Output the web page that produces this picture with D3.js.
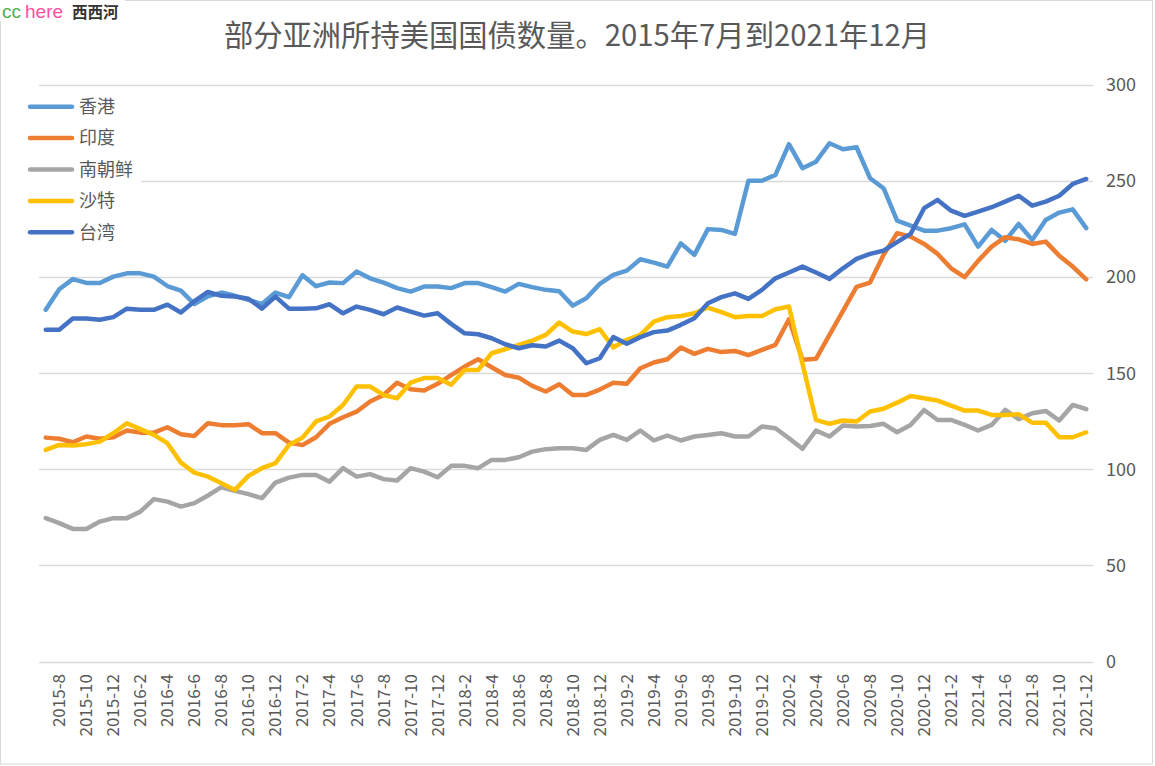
<!DOCTYPE html>
<html>
<head>
<meta charset="utf-8">
<script src="https://cdn.jsdelivr.net/npm/d3@7"></script>
<style>
  body { margin: 0; background: #fff; }
  svg { display: block; font-family: "Noto Sans CJK SC", "Noto Sans", sans-serif; }
</style>
</head>
<body>
<svg id="chart" width="1155" height="766"></svg>
<script>
// months 2015-7 .. 2021-12
var months = [];
for (var yr = 2015; yr <= 2021; yr++) {
    for (var m = (yr == 2015 ? 7 : 1); m <= 12; m++) months.push(yr + "-" + m);
}

var seriesNames = ["香港", "印度", "南朝鲜", "沙特", "台湾"];
var seriesColors = ["#5B9BD5", "#ED7D31", "#A5A5A5", "#FFC000", "#4472C4"];

var hongKong = [183, 193.7, 199, 197, 197, 200.3, 202, 202, 200.3, 195.4, 193, 186, 190, 192, 190.3, 188.2, 186, 192, 189.6, 201,
    195.3, 197.2, 196.9, 202.9, 199.4, 197.2, 194.3, 192.5, 195.1, 195.1, 194.3, 196.9, 196.9, 194.8, 192.5, 196.5, 194.8, 193.4, 192.7, 185.2,
    189, 196.5, 201.2, 203.4, 209.3, 207.6, 205.5, 217.6, 211.6, 225, 224.6, 222.5, 250.2, 250.2, 253.2, 269.2, 256.7, 260.1, 269.7, 266.6,
    267.6, 251.5, 246.3, 229.4, 226.8, 224.2, 224.2, 225.5, 227.5, 215.9, 224.6, 218.9, 227.7, 219.4, 229.8, 233.6, 235.3, 225.5];

var india = [116.5, 115.9, 114.1, 117.1, 115.9, 116.7, 120.2, 119.1, 119.1, 121.9, 118.3, 117.4, 124, 123, 123, 123.5, 118.8, 118.8, 113.9, 112.6,
    116.7, 123.7, 127.1, 130, 135.3, 138.7, 145.1, 141.7, 141, 144.5, 149, 153.5, 157.3, 153.1, 149.1, 147.7, 143.4, 140.5, 144.3, 138.7,
    138.7, 141.5, 145.1, 144.5, 152.6, 155.6, 157.3, 163.4, 160.1, 162.7, 161, 161.6, 159.4, 162.2, 164.8, 178.1, 157, 157.5, 170, 182.5,
    195, 197.2, 211.6, 222.9, 221.1, 217.3, 212.1, 204.6, 200, 208.5, 215.9, 220.8, 219.7, 217.3, 218.5, 211.2, 205.5, 198.9];

var korea = [74.6, 72, 69, 69, 72.8, 74.6, 74.6, 78, 84.5, 83.2, 80.6, 82.4, 86.4, 90.7, 88.8, 87.1, 85, 93.1, 95.7, 97.1,
    97.1, 93.6, 100.6, 96.2, 97.5, 94.9, 94.2, 100.6, 98.8, 95.9, 101.8, 101.8, 100.6, 104.9, 104.9, 106.3, 109.2, 110.5, 111, 111,
    110.1, 115.3, 117.9, 115.3, 120.2, 115, 117.6, 115, 117.1, 117.9, 118.8, 117.1, 117.1, 122.3, 121.4, 116.2, 110.7, 120.2, 117.1, 122.8,
    122.3, 122.6, 123.7, 119.3, 123.1, 130.9, 125.7, 125.7, 123.1, 120.2, 123.1, 130.9, 126.1, 129.2, 130.4, 125.4, 133.5, 131.3];

var saudi = [110.1, 112.7, 112.4, 113.1, 114.4, 118.8, 124, 120.9, 117.9, 113.6, 103.5, 98.3, 96.2, 92.8, 89.3, 96.6, 100.6, 103.2, 112.7, 116.5,
    124.9, 127.5, 133.5, 143.1, 143.1, 138.7, 137, 145.1, 147.5, 147.5, 144, 151.7, 151.7, 160.4, 162.5, 164.8, 167, 170, 176.4, 171.7,
    170.4, 172.9, 163.4, 167.4, 170, 176.9, 179.2, 179.8, 181.2, 184.2, 181.8, 179.2, 179.8, 179.8, 183.3, 184.7, 155, 125.7, 123.7, 125.4,
    124.9, 130.1, 131.5, 134.7, 138.2, 137, 135.8, 133.2, 130.6, 130.6, 128.3, 128.3, 128.7, 124.3, 124.3, 116.7, 116.7, 119.3];

var taiwan = [172.6, 172.6, 178.5, 178.5, 177.8, 179.2, 183.6, 183, 183, 185.7, 181.6, 187.5, 192.3, 190.3, 189.9, 188.8, 183.6, 189.9, 183.6, 183.6,
    183.8, 185.9, 181.2, 184.7, 183, 180.7, 184.2, 182.1, 180, 181.2, 175.7, 170.8, 170.3, 168.2, 165.1, 163, 164.6, 163.9, 167, 163,
    155.2, 157.8, 168.8, 165.3, 168.8, 171.4, 172.2, 175.2, 178.6, 186.4, 189.6, 191.6, 188.7, 193.4, 199.4, 202.4, 205.5, 202.4, 199.1, 204.6,
    209.5, 212.1, 213.8, 218.2, 222.5, 235.9, 240.2, 234.6, 231.9, 234.1, 236.4, 239.3, 242.4, 237.2, 239.3, 242.4, 248.5, 251.1];

var yTicks = [0, 50, 100, 150, 200, 250, 300];
var allSeries = [hongKong, india, korea, saudi, taiwan];

var svg = d3.select("#chart");
var textColor = "#595959";
var gridColor = "#d9d9d9";

// chart border
svg.append("rect")
    .attr("x", 0.5).attr("y", 0.5)
    .attr("width", 1152).attr("height", 763.5)
    .attr("fill", "#fff").attr("stroke", gridColor);

var xScale = d3.scalePoint()
    .domain(months)
    .range([39, 1093])
    .padding(0.5);

var yScale = d3.scaleLinear()
    .domain([0, 300])
    .range([661.5, 85]);

// gridlines
svg.append("g").selectAll("line")
    .data(yTicks)
    .enter().append("line")
    .attr("x1", 39).attr("x2", 1093)
    .attr("y1", function (d) { return Math.round(yScale(d)) + 0.5; })
    .attr("y2", function (d) { return Math.round(yScale(d)) + 0.5; })
    .attr("stroke", gridColor)
    .attr("stroke-width", 1.3);

// right axis labels
svg.append("g").selectAll("text")
    .data(yTicks)
    .enter().append("text")
    .attr("x", 1106)
    .attr("y", function (d) { return yScale(d); })
    .attr("dy", "0.35em")
    .attr("fill", textColor)
    .attr("font-size", 18)
    .text(function (d) { return d; });

// category labels, every other month
svg.append("g").selectAll("text")
    .data(months.filter(function (d, i) { return i % 2 == 1; }))
    .enter().append("text")
    .attr("transform", function (d) { return "translate(" + xScale(d) + ",674) rotate(-90)"; })
    .attr("dy", "0.35em")
    .attr("text-anchor", "end")
    .attr("fill", textColor)
    .attr("font-size", 17)
    .text(function (d) { return d; });

var line = d3.line()
    .x(function (d, i) { return xScale(months[i]); })
    .y(function (d) { return yScale(d); });

svg.append("g").selectAll("path")
    .data(allSeries)
    .enter().append("path")
    .attr("d", line)
    .attr("fill", "none")
    .attr("stroke", function (d, i) { return seriesColors[i]; })
    .attr("stroke-width", 4.5)
    .attr("stroke-linejoin", "round")
    .attr("stroke-linecap", "round");

// legend
var legend = svg.append("g");
legend.append("rect")
    .attr("x", 20).attr("y", 92)
    .attr("width", 121).attr("height", 156)
    .attr("fill", "#fff");

var items = legend.selectAll("g")
    .data(seriesNames)
    .enter().append("g")
    .attr("transform", function (d, i) { return "translate(0," + (106.7 + i * 31.4) + ")"; });

items.append("line")
    .attr("x1", 30).attr("x2", 72)
    .attr("stroke", function (d, i) { return seriesColors[i]; })
    .attr("stroke-width", 4.5)
    .attr("stroke-linecap", "round");

items.append("text")
    .attr("x", 79)
    .attr("dy", "0.35em")
    .attr("fill", textColor)
    .attr("font-size", 18)
    .text(function (d) { return d; });

// title
svg.append("text")
    .attr("x", 577).attr("y", 36)
    .attr("dy", "0.35em")
    .attr("text-anchor", "middle")
    .attr("fill", textColor)
    .attr("font-size", 29.3)
    .text("部分亚洲所持美国国债数量。2015年7月到2021年12月");

// watermark
svg.append("rect")
    .attr("x", 0).attr("y", 0)
    .attr("width", 125).attr("height", 21)
    .attr("fill", "#fff");

var wm = svg.append("text")
    .attr("y", 17.5)
    .attr("font-family", "Liberation Sans, sans-serif");
wm.append("tspan").attr("x", 2).attr("font-size", 19).attr("fill", "#4caf50").text("cc");
wm.append("tspan").attr("x", 25).attr("font-size", 19).attr("fill", "#ff4fa3").text("here");
wm.append("tspan").attr("x", 72).attr("font-size", 15.5).attr("fill", "#333")
    .attr("font-family", "Noto Sans CJK SC").attr("font-weight", "bold").text("西西河");
</script>
</body>
</html>
